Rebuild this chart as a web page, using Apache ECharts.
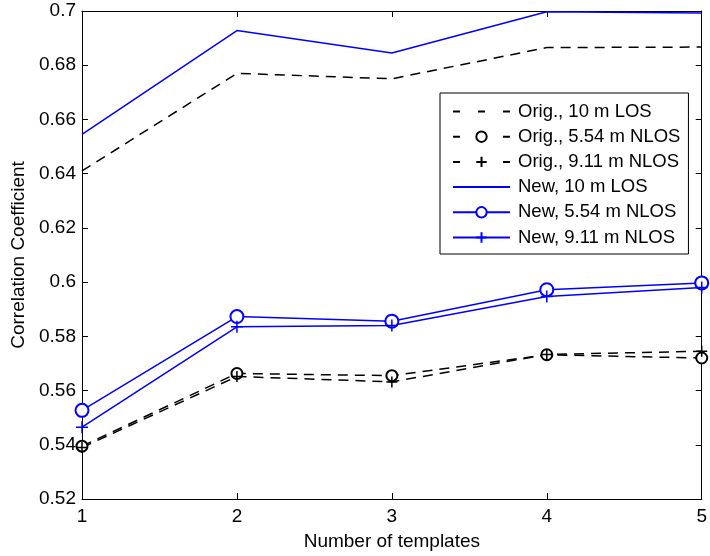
<!DOCTYPE html>
<html>
<head>
<meta charset="utf-8">
<script src="https://cdn.jsdelivr.net/npm/echarts@6/dist/echarts.min.js"></script>
<style>html,body{margin:0;padding:0;background:#fff}#c{width:710px;height:556px}</style>
</head>
<body>
<div id="c"></div>
<script>
var xValues = [1, 2, 3, 4, 5];
var yTicks = [0.52, 0.54, 0.56, 0.58, 0.6, 0.62, 0.64, 0.66, 0.68, 0.7];
var seriesNames = ['Orig., 10 m LOS', 'Orig., 5.54 m NLOS', 'Orig., 9.11 m NLOS', 'New, 10 m LOS', 'New, 5.54 m NLOS', 'New, 9.11 m NLOS'];
var origLos10 = [0.641, 0.677, 0.675, 0.6865, 0.6867];
var origNlos554 = [0.5395, 0.5663, 0.5655, 0.5732, 0.5720];
var origNlos911 = [0.5390, 0.5652, 0.5632, 0.5733, 0.5745];
var newLos10 = [0.6545, 0.6928, 0.6845, 0.6997, 0.6993];
var newNlos554 = [0.5527, 0.5873, 0.5856, 0.5972, 0.5997];
var newNlos911 = [0.5465, 0.5835, 0.5840, 0.5947, 0.5980];

function pairs(arr) { return xValues.map(function (x, i) { return [x, arr[i]]; }); }
var plusPath = 'path://M0,-10L0,10M-10,0L10,0';
var font = 'Liberation Sans, Arial, sans-serif';
var FS = 19;

function mk(name, data, color, dashed, symbol, size) {
  var s = {
    name: name, type: 'line', data: pairs(data),
    lineStyle: { color: color, width: 1.5, type: dashed ? [10, 7] : 'solid' },
    itemStyle: { color: color, borderColor: color, borderWidth: 1.5 },
    symbol: symbol || 'circle', symbolSize: size || 10,
    showSymbol: !!symbol, animation: false, emphasis: { disabled: true },
    clip: false
  };
  if (!symbol) { s.itemStyle = { color: 'rgba(0,0,0,0)', borderColor: 'rgba(0,0,0,0)', borderWidth: 0 }; }
  if (symbol === plusPath) { s.itemStyle.color = 'none'; }
  return s;
}

var legendData = seriesNames.map(function (n, i) {
  var d = { name: n };
  if (i < 3) { d.lineStyle = { type: [7, 18] }; }
  return d;
});

var chart = echarts.init(document.getElementById('c'));
var axisCommon = {
  axisLine: { show: true, onZero: false, lineStyle: { color: '#000', width: 1 } },
  axisTick: { show: true, inside: true, length: 6, lineStyle: { color: '#000' } },
  splitLine: { show: false }
};
chart.setOption({
  backgroundColor: '#fff',
  animation: false,
  grid: { left: 82, right: 5, top: 11, bottom: 53 },
  xAxis: [
    Object.assign({ type: 'value', min: 1, max: 5, interval: 1, position: 'bottom',
      name: 'Number of templates', nameLocation: 'middle', nameGap: 33,
      nameTextStyle: { fontFamily: font, fontSize: FS, color: '#000' },
      axisLabel: { fontFamily: font, fontSize: FS, color: '#000', margin: 8 } }, axisCommon),
    Object.assign({ type: 'value', min: 1, max: 5, interval: 1, position: 'top',
      axisLabel: { show: false } }, axisCommon)
  ],
  yAxis: [
    Object.assign({ type: 'value', min: 0.52, max: 0.7, interval: 0.02, position: 'left',
      name: 'Correlation Coefficient', nameLocation: 'middle', nameGap: 52,
      nameTextStyle: { fontFamily: font, fontSize: FS, color: '#000' },
      axisLabel: { fontFamily: font, fontSize: FS, color: '#000', margin: 6,
        formatter: function (v) { return String(parseFloat(v.toFixed(2))); } } }, axisCommon),
    Object.assign({ type: 'value', min: 0.52, max: 0.7, interval: 0.02, position: 'right',
      axisLabel: { show: false } }, axisCommon)
  ],
  legend: {
    data: legendData,
    orient: 'vertical', left: 440, top: 93,
    backgroundColor: '#fff', borderColor: '#000', borderWidth: 1, borderRadius: 0,
    padding: [9, 8, 7, 12],
    itemWidth: 57, itemHeight: 13, itemGap: 6.2,
    textStyle: { fontFamily: font, fontSize: 18.5, color: '#000', padding: [0, 0, 0, 3] },
    selectedMode: false
  },
  series: [
    mk(seriesNames[0], origLos10, '#000', true),
    mk(seriesNames[1], origNlos554, '#000', true, 'emptyCircle', 11),
    mk(seriesNames[2], origNlos911, '#000', true, plusPath, 11),
    mk(seriesNames[3], newLos10, '#0000ff', false),
    mk(seriesNames[4], newNlos554, '#0000ff', false, 'emptyCircle', 13),
    mk(seriesNames[5], newNlos911, '#0000ff', false, plusPath, 12)
  ]
});
</script>
</body>
</html>
